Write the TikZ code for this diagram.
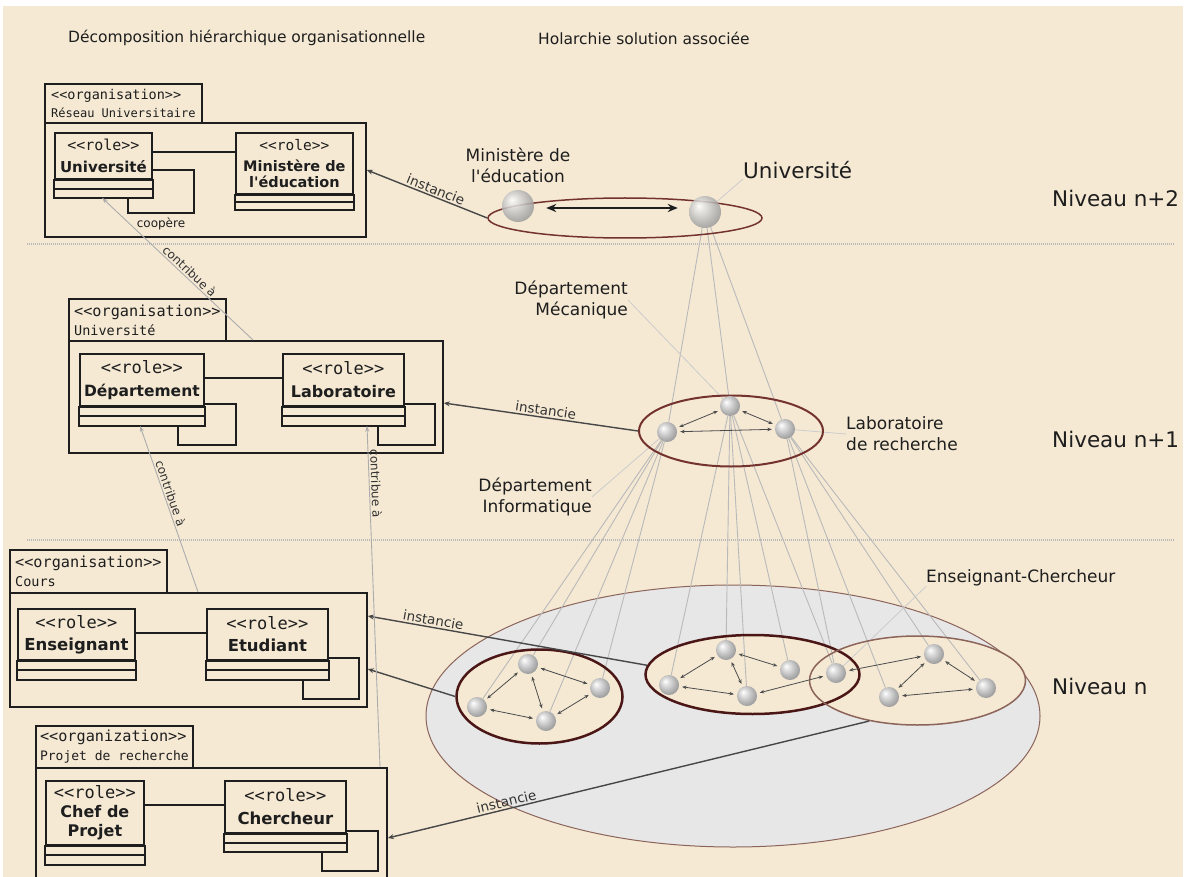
\documentclass[tikz,border=0pt]{standalone}
\usepackage{fontspec}
\setmainfont{DejaVu Sans}[Ligatures=TeXOff]
\setmonofont{DejaVu Sans Mono}
\usetikzlibrary{arrows.meta,calc,shapes.geometric}
\pgfdeclarelayer{paperlayer}
\pgfdeclarelayer{wirelayer}
\pgfsetlayers{paperlayer,wirelayer,main}

\definecolor{paper}{RGB}{245,233,212}
\definecolor{ringdark}{RGB}{75,22,22}
\definecolor{ringmid}{RGB}{115,50,45}
\definecolor{ringsoft}{RGB}{140,100,90}
\definecolor{poolgray}{RGB}{231,231,231}
\definecolor{ink}{RGB}{30,30,30}

% soft silver sphere
\pgfdeclareradialshading{silverball}{\pgfpoint{-10bp}{10bp}}{%
  color(0bp)=(white); color(7bp)=(white!90!black); color(22bp)=(black!30);
  color(34bp)=(black!45); color(50bp)=(black!55)}

\newcommand\stereo[1]{<\kern0pt<#1>\kern0pt>}
\newcommand\fsz[2]{\fontsize{#1}{#2}\selectfont}

% UML role: name, x, y, width, head height, compartment height, font, text
\newcommand\umlrole[8]{%
  \node[rolehead, font=#7, minimum width=#4, minimum height=#5] (#1) at (#2,#3) {#8};
  \draw[umlline] (#1.south west) rectangle ($(#1.south east)+(0,2*#6)$);
  \draw[umlline] ($(#1.south west)+(0,#6)$) -- ($(#1.south east)+(0,#6)$);
  \coordinate (#1-base) at ($(#1.south)+(0,2*#6)$);
}

\begin{document}
\begin{tikzpicture}[x=1pt,y=-1pt,
  umlline/.style={draw=ink, line width=1.8pt},
  rolehead/.style={umlline, rectangle, anchor=north west, inner sep=1pt, align=center, text=ink},
  orgframe/.style={umlline, rectangle, anchor=north west, inner sep=0pt},
  orgtab/.style={orgframe, align=left, text=ink},
  ball/.style={circle, inner sep=0pt, minimum size=20pt, shading=silverball},
  bigball/.style={circle, inner sep=0pt, minimum size=32pt, shading=silverball, opacity=0.85},
  holring/.style={ellipse, inner sep=0pt},
  hol/.style={draw=gray!55, line width=0.9pt},
  tag/.style={draw=gray!40, line width=0.8pt},
  peer/.style={draw=black!70, line width=0.8pt,
    {Stealth[length=4.5pt,width=3.5pt]}-{Stealth[length=4.5pt,width=3.5pt]},
    shorten <=3pt, shorten >=3pt},
  topdbl/.style={draw=ink, line width=2pt,
    {Stealth[length=10pt,width=8pt]}-{Stealth[length=10pt,width=8pt]},
    shorten <=12pt, shorten >=11pt},
  inst/.style={draw=black!72, line width=1.4pt, {Stealth[length=6pt,width=5pt]}-},
  contrib/.style={draw=gray!65, line width=0.9pt, {Stealth[length=6pt,width=4pt]}-},
  instlbl/.style={font=\fsz{13.5}{16}, inner sep=1.5pt, text=black!80},
  contlbl/.style={font=\fsz{12}{14}, inner sep=1.5pt, text=black!80},
  lbl/.style={font=\fsz{17}{21}, inner sep=0pt, text=ink},
  lvl/.style={font=\fsz{21.5}{26}, inner sep=0pt, text=ink, anchor=west},
  sepline/.style={draw=gray!55, line width=2.2pt, dash pattern=on 1pt off 1pt}
]
\useasboundingbox (0,0) rectangle (1188,877);
\clip (0,0) rectangle (1188,877);

% page, pool of level-n holons and their fills
\begin{pgfonlayer}{paperlayer}
  \fill[white] (0,0) rectangle (1188,877);
  \fill[paper] (3,6) rectangle (1183,877);
  \filldraw[fill=poolgray, draw=ringsoft, line width=1pt] (733,716) ellipse [x radius=307, y radius=131];
  \fill[paper] (539.5,696.5) ellipse [x radius=83, y radius=47];
  \fill[paper] (752.5,674.5) ellipse [x radius=107, y radius=39.5];
  \fill[paper] (917.5,680.5) ellipse [x radius=108, y radius=44.5];
\end{pgfonlayer}

% level separators
\draw[sepline] (27,244) -- (1175,244);
\draw[sepline] (27,540) -- (1175,540);

% headings and level names
\node[anchor=west, font=\fsz{15.5}{18}, inner sep=0pt, text=ink] (ttl1) at (68,38) {Décomposition hiérarchique organisationnelle};
\node[anchor=west, font=\fsz{15.5}{18}, inner sep=0pt, text=ink] (ttl2) at (538,38) {Holarchie solution associée};
\node[lvl] (niv2) at (1052,198) {Niveau n+2};
\node[lvl] (niv1) at (1052,439) {Niveau n+1};
\node[lvl] (niv0) at (1052,686) {Niveau n};

% ---------- organisation: Réseau Universitaire ----------
\node[orgtab, minimum width=157, minimum height=39, font=\ttfamily\fsz{13.5}{18}] (tab1) at (44,83)
  {\stereo{organisation}\\\fsz{12}{18}Réseau Universitaire};
\node[orgframe, minimum width=321, minimum height=114] (org1) at (44,122) {};
\umlrole{runi}{54}{132}{97}{46}{9}{\fsz{15}{22}}{{\ttfamily\stereo{role}}\\\textbf{Université}}
\umlrole{rmin}{235}{132}{117}{61}{7.5}{\fsz{14.5}{21}}{{\ttfamily\stereo{role}}\\\textbf{Ministère de}\\[-5pt]\textbf{l'éducation}}
\draw[umlline] (runi.east |- 0,152) -- (rmin.west |- 0,152);
\draw[umlline] (runi.east |- 0,170) -| (194,213) -| (runi-base -| 128,0);
\node[font=\fsz{12}{14}, inner sep=0pt, text=ink] (coop) at (161,224) {coopère};

% ---------- organisation: Université ----------
\node[orgtab, minimum width=157, minimum height=42, font=\ttfamily\fsz{15.2}{19}] (tab2) at (68,298)
  {\stereo{organisation}\\\fsz{13.5}{19}Université};
\node[orgframe, minimum width=374, minimum height=112] (org2) at (68,340) {};
\umlrole{rdep}{79}{353}{124}{52}{9.5}{\fsz{15.5}{23}}{{\ttfamily\fsz{17}{23}\stereo{role}}\\\textbf{Département}}
\umlrole{rlab}{282}{353}{121}{52}{9.5}{\fsz{16}{23}}{{\ttfamily\fsz{17}{23}\stereo{role}}\\\textbf{Laboratoire}}
\draw[umlline] (rdep.east |- 0,378) -- (rlab.west |- 0,378);
\draw[umlline] (rdep.east |- 0,404) -| (236,445) -| (rdep-base -| 178,0);
\draw[umlline] (rlab.east |- 0,404) -| (435,445) -| (rlab-base -| 378,0);

% ---------- organisation: Cours ----------
\node[orgtab, minimum width=157, minimum height=43, font=\ttfamily\fsz{15.2}{19}] (tab3) at (9,549)
  {\stereo{organisation}\\\fsz{13.5}{19}Cours\phantom{sation>>}};
\node[orgframe, minimum width=357, minimum height=114] (org3) at (9,592) {};
\umlrole{rens}{17}{608}{117}{51}{9.5}{\fsz{16.5}{22}}{{\ttfamily\fsz{17}{22}\stereo{role}}\\\textbf{Enseignant}}
\umlrole{retu}{206}{608}{121}{51}{9.5}{\fsz{16.5}{22}}{{\ttfamily\fsz{17}{22}\stereo{role}}\\\textbf{Etudiant}}
\draw[umlline] (rens.east |- 0,633) -- (retu.west |- 0,633);
\draw[umlline] (retu.east |- 0,658) -| (359,699) -| (retu-base -| 303,0);

% ---------- organisation: Projet de recherche ----------
\node[orgtab, minimum width=157, minimum height=42, font=\ttfamily\fsz{15.2}{19}] (tab4) at (35,725)
  {\stereo{organization}\\\fsz{13}{19}Projet de recherche};
\node[orgframe, minimum width=351, minimum height=133] (org4) at (35,767) {};
\umlrole{rchef}{45}{780}{98}{64}{9.5}{\fsz{16}{19}}{{\ttfamily\fsz{17}{19}\stereo{role}}\\\textbf{Chef de}\\\textbf{Projet}}
\umlrole{rcher}{224}{780}{121}{52}{9}{\fsz{16.5}{23}}{{\ttfamily\fsz{17}{23}\stereo{role}}\\\textbf{Chercheur}}
\draw[umlline] (rchef.east |- 0,805) -- (rcher.west |- 0,805);
\draw[umlline] (rcher.east |- 0,831) -| (378,871) -| (rcher-base -| 322,0);

% ---------- holarchy rings ----------
\node[holring, draw=ringdark, line width=2.5pt, minimum width=166, minimum height=94] (holA) at (539.5,696.5) {};
\node[holring, draw=ringdark, line width=2.5pt, minimum width=214, minimum height=79] (holB) at (752.5,674.5) {};
\node[holring, draw=ringsoft, line width=1.5pt, minimum width=216, minimum height=89] (holC) at (917.5,680.5) {};
\node[holring, draw=ringmid, line width=2pt, minimum width=184, minimum height=71] (hol1) at (731,431) {};
\node[holring, draw=ringmid, line width=1.5pt, minimum width=274, minimum height=40] (hol2) at (625,218) {};

% ---------- holons ----------
\node[bigball] (smin) at (518,206) {};
\node[bigball] (suni) at (705,212) {};
\node[ball] (dinfo) at (667,432) {};
\node[ball] (dmeca) at (730,406) {};
\node[ball] (dlab) at (785,429) {};
\node[ball] (A1) at (528,664) {};
\node[ball] (A2) at (600,688) {};
\node[ball] (A3) at (477,707) {};
\node[ball] (A4) at (546,721) {};
\node[ball] (B1) at (726,650) {};
\node[ball] (B2) at (790,670) {};
\node[ball] (B3) at (669,685) {};
\node[ball] (B4) at (747,696) {};
\node[ball] (S) at (836,673) {};
\node[ball] (C1) at (934,654) {};
\node[ball] (C3) at (889,697) {};
\node[ball] (C4) at (986,688) {};

% holon names
\node[lbl, align=center] (lblmin) at (518,165) {Ministère de\\l'éducation};
\node[font=\fsz{21.5}{26}, inner sep=0pt, anchor=west, text=ink] (lbluni) at (743,170) {Université};
\node[lbl, anchor=east, align=right] (lblmeca) at (628,300) {Département\\Mécanique};
\node[lbl, anchor=west, align=left] (lbllab) at (846,434) {Laboratoire\\de recherche};
\node[lbl, anchor=east, align=right] (lblinfo) at (592,497) {Département\\Informatique};
\node[lbl, anchor=west] (lblec) at (926,578) {Enseignant-Chercheur};

% composition links between levels and name leaders
\begin{pgfonlayer}{wirelayer}
  \foreach \t in {dinfo,dmeca,dlab} \draw[hol] (suni) -- (\t);
  \foreach \t in {A1,A2,A3,A4} \draw[hol] (dinfo) -- (\t);
  \foreach \t in {B1,B2,B3,B4,S} \draw[hol] (dmeca) -- (\t);
  \foreach \t in {S,C1,C3,C4} \draw[hol] (dlab) -- (\t);
  \draw[tag] (lbluni.south west) -- (suni);
  \draw[tag] (lblmeca.east) -- (dmeca);
  \draw[tag] (dlab) -- (lbllab.west);
  \draw[tag] (lblinfo.east) -- (dinfo);
  \draw[tag] (lblec.south west) -- (S);
\end{pgfonlayer}

% interactions inside holons
\draw[topdbl] ($(smin.east)+(0,2)$) -- ($(suni.west |- smin.east)+(0,2)$);
\foreach \a/\b in {dinfo/dmeca, dmeca/dlab, dinfo/dlab,
                   A1/A3, A1/A4, A1/A2, A3/A4, A4/A2,
                   B3/B1, B1/B4, B1/B2, B3/B4, B4/S,
                   S/C1, C3/C1, C1/C4, C3/C4}
  \draw[peer] (\a) -- (\b);

% instantiation links
\draw[inst] (org1.east |- 0,170) -- (hol2.west) node[pos=0.55, above, sloped, instlbl] {instancie};
\draw[inst] (org2.east |- 0,403) -- (hol1.west) node[pos=0.52, above, sloped, instlbl] {instancie};
\draw[inst] (org3.east |- 0,616) -- (holB.175) node[pos=0.23, above, sloped, instlbl] {instancie};
\draw[inst] (org3.east |- 0,669) -- (holA.west);
\draw[inst] (org4.east |- 0,838) -- (holC.220) node[pos=0.25, above, sloped, instlbl] {instancie};

% contribution links between organisations
\draw[contrib] (runi-base -| 102,0) -- (org2.north -| 253,0) node[pos=0.55, above, sloped, contlbl] {contribue à};
\draw[contrib] (rdep-base -| 140,0) -- (org3.north -| 198,0) node[pos=0.42, above, sloped, contlbl] {contribue à};
\draw[contrib] (rlab-base -| 367,0) -- (org4.north -| 380,0) node[pos=0.17, above, sloped, contlbl] {contribue à};
\end{tikzpicture}
\end{document}
